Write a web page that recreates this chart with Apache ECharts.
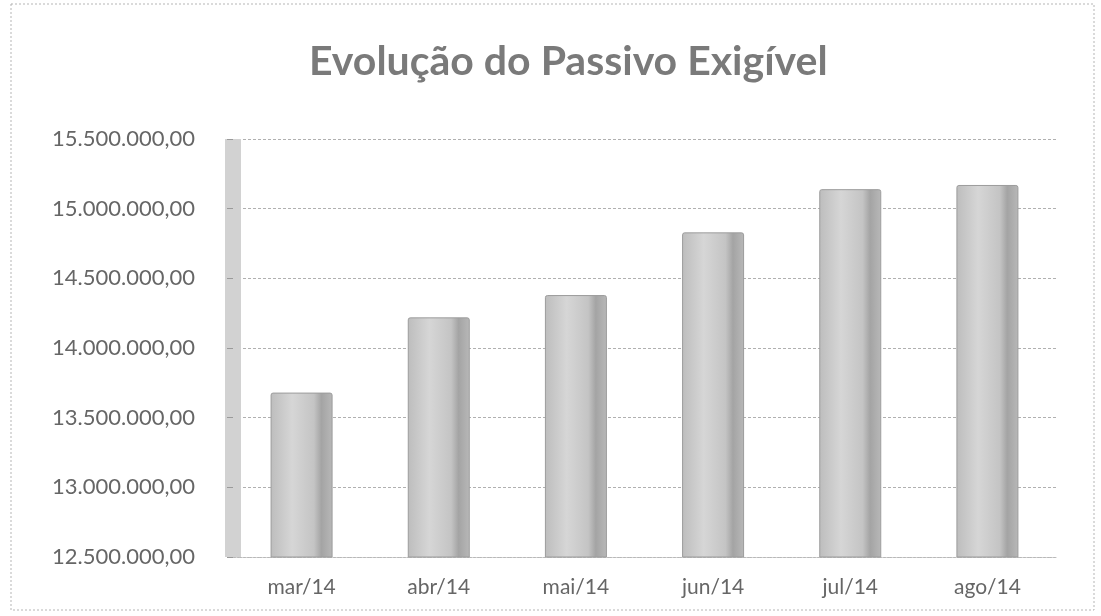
<!DOCTYPE html>
<html>
<head>
<meta charset="utf-8">
<script src="https://cdn.jsdelivr.net/npm/echarts@6/dist/echarts.min.js"></script>
<style>
  html, body { margin: 0; padding: 0; background: #fff; }
  #passivoChart { width: 1101px; height: 616px; }
</style>
</head>
<body>
<div id="passivoChart"></div>
<script>
const titulo = "Evolução do Passivo Exigível";
const meses = ["mar/14", "abr/14", "mai/14", "jun/14", "jul/14", "ago/14"];
const passivo = [13680000, 14220000, 14380000, 14830000, 15140000, 15170000];
const eixoMin = 12500000;
const eixoMax = 15500000;
const eixoPasso = 500000;

// 15500000 -> "15.500.000,00"
const formataBR = (v) => {
    const partes = Math.round(v).toString().replace(/\B(?=(\d{3})+(?!\d))/g, ".");
    return partes + ",00";
};

const chart = echarts.init(document.getElementById("passivoChart"));
const option = {
    backgroundColor: "#ffffff",
    animation: false,
    title: {
        text: titulo,
        left: 304,
        top: 36,
        textStyle: {
            fontFamily: "Lato",
            fontWeight: "bold",
            fontSize: 41,
            color: "#7a7a7a",
        },
    },
    graphic: [
        {
            type: "rect",
            shape: { x: 11, y: 4, width: 1083, height: 606 },
            style: { fill: "none", stroke: "#b5b5b5", lineWidth: 1, lineDash: [2, 2] },
            silent: true,
        },
    ],
    grid: {
        left: 233,
        right: 45,
        top: 139,
        bottom: 59,
    },
    xAxis: {
        type: "category",
        data: meses,
        axisLine: {
            lineStyle: { color: "#bdbdbd", type: "dotted", width: 1 },
        },
        axisTick: { show: false },
        axisLabel: {
            fontFamily: "Lato",
            fontSize: 21,
            color: "#666666",
            margin: 20,
        },
    },
    yAxis: {
        type: "value",
        min: eixoMin,
        max: eixoMax,
        interval: eixoPasso,
        axisLine: {
            show: true,
            lineStyle: { color: "#d2d2d2", width: 16, cap: "butt" },
        },
        axisTick: {
            show: true,
            length: 6,
            lineStyle: { color: "#9a9a9a" },
        },
        axisLabel: {
            fontFamily: "Lato",
            fontSize: 22,
            color: "#666666",
            margin: 38,
            formatter: formataBR,
        },
        splitLine: {
            lineStyle: { color: "#b0b0b0", type: [3, 2], width: 1 },
        },
    },
    series: [
        {
            name: "Passivo Exigível",
            type: "bar",
            data: passivo,
            barWidth: 62,
            itemStyle: {
                color: new echarts.graphic.LinearGradient(0, 0, 1, 0, [
                    { offset: 0, color: "#bdbdbd" },
                    { offset: 0.35, color: "#d6d6d6" },
                    { offset: 0.7, color: "#c4c4c4" },
                    { offset: 0.82, color: "#a4a4a4" },
                    { offset: 1, color: "#b8b8b8" },
                ]),
                borderColor: "#9c9c9c",
                borderWidth: 1,
                borderRadius: [2, 2, 0, 0],
            },
        },
    ],
};
chart.setOption(option);
</script>
</body>
</html>
